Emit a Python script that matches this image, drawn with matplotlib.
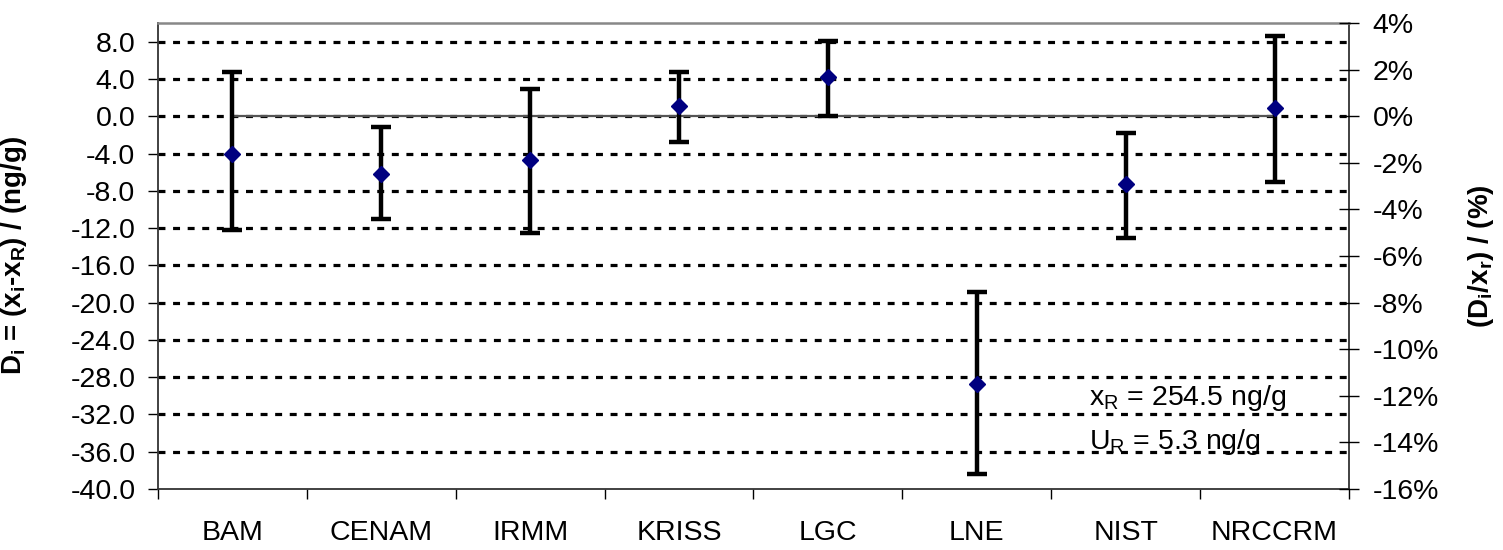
import numpy as np
import matplotlib
matplotlib.use("Agg")
import matplotlib.pyplot as plt
from matplotlib.ticker import FixedLocator, FormatStrFormatter, FuncFormatter

plt.rcParams['font.family'] = ['Liberation Sans', 'DejaVu Sans']
plt.rcParams['axes.unicode_minus'] = False
plt.rcParams['mathtext.fontset'] = 'custom'
plt.rcParams['mathtext.rm'] = 'Liberation Sans'
plt.rcParams['mathtext.bf'] = 'Liberation Sans:bold'
plt.rcParams['lines.scale_dashes'] = False

# dados (ng/g)
labs = ['BAM', 'CENAM', 'IRMM', 'KRISS', 'LGC', 'LNE', 'NIST', 'NRCCRM']
valor = np.array([-4.0, -6.2, -4.7, 1.1, 4.2, -28.7, -7.3, 0.9])
sup = np.array([4.7, -1.2, 2.9, 4.7, 8.1, -18.9, -1.8, 8.6])
inf = np.array([-12.2, -11.0, -12.5, -2.8, 0.0, -38.4, -13.1, -7.1])
ticks_esq = np.arange(-40, 9, 4)
ticks_dir = np.arange(-16, 5, 2)

fs = 20.5
x = np.arange(len(labs))

fig = plt.figure(figsize=(15.03, 5.5), dpi=100)
ax = fig.add_axes([0.1051, 0.111, 0.7924, 0.847])

ax.set_ylim(-40, 10)
ax.set_xlim(-0.5, len(labs) - 0.5)

# grade pontilhada
for t in ticks_esq[1:]:
    ax.axhline(t, color='black', lw=2.3, ls=(0, (5, 5.5)), zorder=1)

ax.plot(x, np.zeros(len(x)), color='#555555', lw=1.6, zorder=2)

ax.errorbar(x, valor, yerr=[valor - inf, sup - valor], fmt='D', color='#000080',
            markersize=8.5, ecolor='black', elinewidth=3.2, capsize=7.5, capthick=3.2,
            zorder=3)

ax.yaxis.set_major_locator(FixedLocator(ticks_esq))
ax.yaxis.set_major_formatter(FormatStrFormatter('%.1f'))
ax.tick_params(axis='y', direction='out', length=7.2, width=1, pad=9, labelsize=fs)

ax.xaxis.set_major_locator(FixedLocator(np.arange(len(labs) + 1) - 0.5))
ax.xaxis.set_major_formatter(FuncFormatter(lambda v, p: ''))
ax.xaxis.set_minor_locator(FixedLocator(x))
ax.set_xticklabels(labs, minor=True)
ax.tick_params(axis='x', which='major', direction='out', length=7.2, width=1)
ax.tick_params(axis='x', which='minor', length=0, pad=22, labelsize=fs)

for s in ['left', 'bottom', 'right']:
    ax.spines[s].set_color('#333333')
    ax.spines[s].set_linewidth(1.3)
ax.spines['top'].set_color('#888888')
ax.spines['top'].set_linewidth(1.8)

ax.set_ylabel(r'$\mathbf{D_i}$ = (x$\mathbf{_i}$-x$\mathbf{_R}$) / (ng/g)', fontsize=20,
              fontweight='bold')
ax.yaxis.set_label_coords(-0.108, 0.5)

ax2 = ax.twinx()
ax2.set_ylim(-16, 4)
ax2.yaxis.set_major_locator(FixedLocator(ticks_dir))
ax2.yaxis.set_major_formatter(FuncFormatter(lambda v, p: '%d%%' % round(v)))
ax2.tick_params(axis='y', direction='inout', length=14.4, width=1, pad=10, labelsize=fs)
for s in ax2.spines.values():
    s.set_visible(False)
ax2.set_ylabel(r'($\mathbf{D_i}$/x$\mathbf{_r}$) / (%)', fontsize=20, fontweight='bold')
ax2.yaxis.set_label_coords(1.098, 0.5)

ax.text(5.755, -31.0, r'x$_\mathregular{R}$ = 254.5 ng/g', fontsize=fs, va='baseline', zorder=4)
ax.text(5.755, -35.7, r'U$_\mathregular{R}$ = 5.3 ng/g', fontsize=fs, va='baseline', zorder=4)

fig.savefig('out.png', dpi=100)
